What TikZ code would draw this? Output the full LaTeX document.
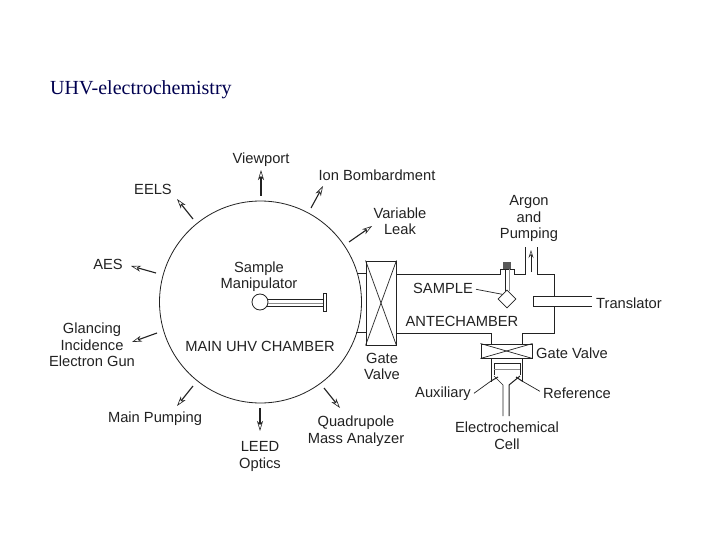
\documentclass[tikz,border=0pt]{standalone}
\usepackage{fontspec}
\setmainfont{Liberation Sans}
\newfontfamily\titlefont{Liberation Serif}
\usetikzlibrary{arrows.meta,shapes.geometric}
\definecolor{ink}{HTML}{222222}
\definecolor{navy}{HTML}{000050}
\tikzset{
  lbl/.style={text=ink,align=center,inner sep=0pt,yshift=-1.3pt,font=\fontsize{14.7}{16.5}\selectfont},
  wall/.style={draw=ink,line width=1pt,line join=miter},
  thin wall/.style={draw=ink,line width=0.7pt},
  gray wall/.style={draw=black!45,line width=0.8pt},
  port/.style={draw=ink,line width=1.1pt,-{Stealth[length=10pt,width=6pt,inset=3pt,line width=0.6pt,open]}},
  leader/.style={draw=ink,line width=0.7pt},
  valve/.style={draw=ink,line width=0.9pt,minimum width=#1,inner sep=0pt},
}
\begin{document}
\begin{tikzpicture}[x=1pt,y=-1pt]
\useasboundingbox[fill=white] (0,0) rectangle (720,540);
\node[anchor=west,inner sep=0pt,text=navy,font=\titlefont\fontsize{20}{22}\selectfont] (title) at (50,90) {UHV-electrochemistry};

% main chamber
\node[circle,draw=ink,line width=0.8pt,minimum size=202pt,inner sep=0pt] (chamber) at (260.5,302) {};
\node[lbl] (mainlbl) at (260,345) {MAIN UHV CHAMBER};
\node[lbl] (manip) at (259,275.5) {Sample\\Manipulator};

% sample manipulator
\node[circle,draw=ink,line width=0.8pt,minimum size=16pt,inner sep=0pt] (ball) at (260,302) {};
\node[draw=ink,line width=0.8pt,minimum width=3pt,minimum height=18pt,inner sep=0pt] (bar) at (324.5,302) {};
\draw[wall] (267,299.5) -- (323,299.5);
\draw[gray wall] (268,303) -- (323,303);
\draw[wall] (267,306) -- (323,306);

% port labels
\node[lbl] (viewport) at (261,158) {Viewport};
\node[lbl] (ion) at (377,174) {Ion Bombardment};
\node[lbl] (leak) at (400,220) {Variable\\Leak};
\node[lbl] (eels) at (153,188) {EELS};
\node[lbl] (aes) at (108,263) {AES};
\node[lbl] (gig) at (92,343.5) {Glancing\\Incidence\\Electron Gun};
\node[lbl] (pump) at (155,417) {Main Pumping};
\node[lbl] (leed) at (260,455) {LEED\\Optics};
\node[lbl] (quad) at (356,430) {Quadrupole\\Mass Analyzer};

% port arrows
\coordinate (a1s) at (261,196); \coordinate (a1e) at (261,170);
\coordinate (a2s) at (311,208); \coordinate (a2e) at (323,186);
\coordinate (a3s) at (349,242); \coordinate (a3e) at (372,226);
\coordinate (a4s) at (193,219); \coordinate (a4e) at (177,199);
\coordinate (a5s) at (156,273); \coordinate (a5e) at (131,266);
\coordinate (a6s) at (157,333); \coordinate (a6e) at (132,342);
\coordinate (a7s) at (193,386); \coordinate (a7e) at (177,406);
\coordinate (a8s) at (260,408); \coordinate (a8e) at (260,431);
\coordinate (a9s) at (324,388); \coordinate (a9e) at (340,408);
\foreach \i in {1,...,9} \draw[port] (a\i s) -- (a\i e);

% main gate valve
\draw[wall] (357,273) -- (366,273);
\draw[wall] (356,332) -- (366,332);
\node[valve=30pt,minimum height=84pt] (gv1) at (381,303) {};
\draw[thin wall] (gv1.north west) -- (gv1.south east);
\draw[thin wall] (gv1.north east) -- (gv1.south west);
\node[lbl] (gv1lbl) at (382,365) {Gate\\Valve};

% antechamber
\draw[wall] (396,274) -- (500,274) -- (500,269) -- (514,269) -- (514,274) -- (525,274) -- (525,247);
\draw[wall] (537,247) -- (537,274) -- (554,274) -- (554,296);
\draw[wall] (554,306) -- (554,333) -- (522,333) -- (522,344);
\draw[wall] (396,333) -- (491,333) -- (491,344);
\node[fill=black!65,minimum width=8pt,minimum height=7pt,inner sep=0pt] (feed) at (507,265.5) {};
\draw[thin wall] (505,269) -- (505,291);
\draw[gray wall] (509,269) -- (509,291);
\node[diamond,draw=ink,line width=0.8pt,fill=white,minimum width=18pt,minimum height=18pt,inner sep=0pt] (sample) at (507,299) {};
\node[lbl] (samplelbl) at (443,287) {SAMPLE};
\node[lbl] (antelbl) at (462,320) {ANTECHAMBER};
\draw[leader] (samplelbl.east)++(3,1) coordinate (sl) (sl) -- (sample.north west);
\node[lbl] (argon) at (529,217.5) {Argon\\and\\Pumping};
\coordinate (pumps) at (531,272); \coordinate (pumpe) at (531,250);
\draw[draw=ink,line width=0.8pt,-{Stealth[length=8pt,width=5pt,inset=3pt,line width=0.5pt,open]}] (pumps) -- (pumpe);

% translator
\draw[wall] (592,296) -- (533,296) -- (533,306) -- (592,306);
\node[lbl] (trans) at (629,302) {Translator};

% lower gate valve
\node[valve=51pt,minimum height=14pt] (gv2) at (506.5,351) {};
\draw[thin wall] (gv2.north west) -- (gv2.south east);
\draw[thin wall] (gv2.north east) -- (gv2.south west);
\node[lbl] (gv2lbl) at (572,352) {Gate Valve};

% electrochemical cell
\draw[wall] (491,358) -- (491,382);
\draw[wall] (522,358) -- (522,382);
\draw[wall] (494,375) -- (494,363) -- (520,363) -- (520,375);
\draw[gray wall] (494,369) -- (520,369);
\draw[thin wall] (494,376) -- (503,385) -- (503,416);
\draw[wall] (520,376) -- (509,385) -- (509,416);
\draw[wall] (491,381) -- (498,377);
\draw[wall] (522,381) -- (516,377);
\coordinate (auxpt) at (491,381);
\coordinate (refpt) at (522,381);
\node[lbl] (aux) at (443,392) {Auxiliary};
\node[lbl] (ref) at (577,392) {Reference};
\draw[leader] (aux.east)++(3,0) coordinate (al) (al) -- (auxpt);
\draw[leader] (ref.west)++(-3,-2) coordinate (rl) (rl) -- (refpt);
\node[lbl] (cell) at (507,434.5) {Electrochemical\\Cell};
\end{tikzpicture}
\end{document}
